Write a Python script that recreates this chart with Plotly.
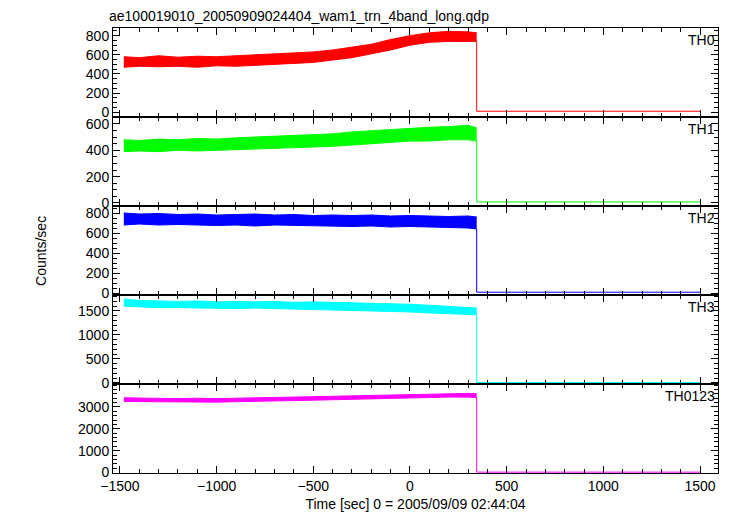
import plotly.graph_objects as go

t = [-1480,-1400,-1300,-1200,-1100,-1000,-900,-800,-700,-600,-500,-400,-300,-200,-100,0,100,200,300,345]
t_drop = [345, 345, 1500]
names = ["TH0", "TH1", "TH2", "TH3", "TH0123"]
colors = ["#ff0000", "#00ff00", "#0000ff", "#00ffff", "#ff00ff"]
upper = [
    [580,570,590,575,585,580,590,600,605,615,630,650,680,710,760,800,830,845,840,830],
    [480,475,485,480,490,485,495,500,505,510,520,525,540,550,560,565,575,580,590,570],
    [800,790,795,785,790,780,785,790,780,785,775,780,775,780,770,775,770,765,770,760],
    [1750,1720,1710,1700,1710,1690,1700,1690,1700,1680,1690,1680,1670,1670,1660,1640,1620,1600,1580,1560],
    [3420,3400,3390,3380,3400,3380,3400,3410,3420,3450,3470,3490,3510,3540,3560,3580,3600,3620,3620,3600],
]
lower = [
    [470,480,475,480,470,485,480,490,500,510,520,545,570,610,650,700,730,740,745,740],
    [390,395,390,400,395,400,405,405,410,420,425,430,440,450,460,470,470,480,480,470],
    [680,690,680,685,680,675,680,670,680,675,670,670,665,670,660,665,660,655,650,640],
    [1600,1580,1570,1570,1560,1560,1550,1560,1550,1540,1540,1530,1520,1510,1490,1480,1460,1440,1430,1420],
    [3250,3240,3230,3220,3230,3220,3240,3250,3270,3290,3310,3330,3350,3380,3400,3430,3440,3450,3450,3420],
]
after_level = [10, 8, 8, 10, 20]
yranges = [[-50, 880], [-23, 653], [-20, 870], [-21, 1833], [-20, 4050]]
ytickvals = [[0,200,400,600,800],[0,200,400,600],[0,200,400,600,800],[0,500,1000,1500],[0,1000,2000,3000]]

fig = go.Figure()
n = 5
font = dict(family="Liberation Sans, Arial, sans-serif", size=14, color="black")
for i in range(n):
    ax = "" if i == 0 else str(i + 1)
    xa, ya = "x" + ax, "y" + ax
    c = colors[i]
    fig.add_trace(go.Scatter(x=t, y=upper[i], mode="lines", line=dict(color=c, width=1),
                             xaxis=xa, yaxis=ya, showlegend=False))
    fig.add_trace(go.Scatter(x=t, y=lower[i], mode="lines", line=dict(color=c, width=1),
                             fill="tonexty", fillcolor=c, xaxis=xa, yaxis=ya, showlegend=False))
    fig.add_trace(go.Scatter(x=t_drop, y=[lower[i][-1], after_level[i], after_level[i]], mode="lines",
                             line=dict(color=c, width=1), xaxis=xa, yaxis=ya, showlegend=False))
    top = 1 - i / n
    bot = 1 - (i + 1) / n
    common = dict(showline=True, linecolor="black", linewidth=1, mirror="allticks",
                  ticks="inside", ticklen=7, tickcolor="black", showgrid=False, zeroline=False,
                  tickfont=font, automargin=False)
    fig.layout["xaxis" + ax] = dict(common, range=[-1536, 1593], domain=[0, 1],
                                    anchor=ya, tickvals=[-1500,-1000,-500,0,500,1000,1500],
                                    showticklabels=(i == n - 1),
                                    minor=dict(ticks="inside", ticklen=4, dtick=100, tickcolor="black"))
    fig.layout["yaxis" + ax] = dict(common, range=yranges[i], domain=[bot, top], anchor=xa,
                                    tickvals=ytickvals[i],
                                    minor=dict(ticks="inside", ticklen=4, tickcolor="black"))
    fig.add_annotation(text=names[i], xref="paper", yref="paper", x=0.998, y=top - 0.005,
                       xanchor="right", yanchor="top", showarrow=False, font=font)

fig.layout.xaxis5.title = dict(text="Time [sec] 0 = 2005/09/09 02:44:04", font=font, standoff=6)
fig.add_annotation(text="Counts/sec", xref="paper", yref="paper", x=-0.12, y=0.5, textangle=-90,
                   showarrow=False, font=font, xanchor="center", yanchor="middle")
fig.add_annotation(text="ae100019010_20050909024404_wam1_trn_4band_long.qdp", xref="paper", yref="paper",
                   x=-0.01, y=1.005, xanchor="left", yanchor="bottom", showarrow=False, font=font)
fig.update_layout(width=730, height=516, margin=dict(l=105, r=20, t=20, b=51),
                  plot_bgcolor="white", paper_bgcolor="white", font=font)
fig.write_html("out.html")
